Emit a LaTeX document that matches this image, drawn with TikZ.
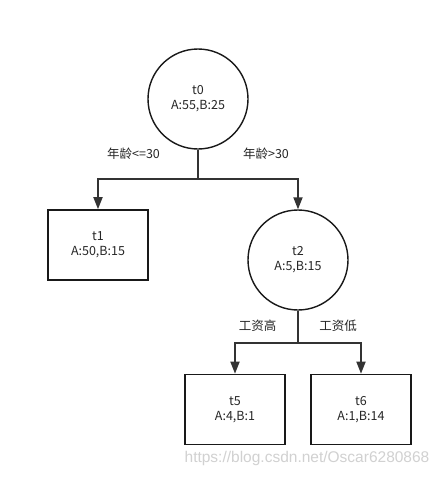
\documentclass[tikz,border=0pt]{standalone}
\usepackage{fontspec}
\setmainfont{Noto Sans CJK SC}
\newfontfamily\wmfont{Liberation Sans}
\usetikzlibrary{arrows.meta}
\begin{document}
\begin{tikzpicture}[x=1pt,y=-1pt,
  every node/.style={font=\fontsize{12.5}{15}\selectfont, text=black!85},
  circ/.style={circle, draw=black!90, line width=1.4pt, minimum size=100pt, inner sep=0pt, align=center},
  leaf/.style={rectangle, draw=black!90, line width=1.6pt, minimum width=100pt, minimum height=70pt, inner sep=0pt, align=center},
  conn/.style={draw=black!80, line width=1.8pt, -{Triangle[width=9pt,length=12pt]}},
  lbl/.style={inner sep=1pt}]
\useasboundingbox[fill=white] (0,0) rectangle (442,477);
\node[circ] (t0) at (198,99) {t0\\A:55,B:25};
\node[leaf] (t1) at (98,245) {t1\\A:50,B:15};
\node[circ] (t2) at (298,260) {t2\\A:5,B:15};
\node[leaf] (t5) at (235,409.5) {t5\\A:4,B:1};
\node[leaf] (t6) at (361,409.5) {t6\\A:1,B:14};
\draw[conn] (t0.south) -- ++(0,29) -| (t1.north);
\draw[conn] (t0.south) -- ++(0,29) -| (t2.north);
\draw[conn] (t2.south) -- ++(0,32) -| (t5.north);
\draw[conn] (t2.south) -- ++(0,32) -| (t6.north);
\node[lbl] (l1) at (133.5,154) {年龄<=30};
\node[lbl] (l2) at (266,154) {年龄>30};
\node[lbl] (l3) at (257.5,326) {工资高};
\node[lbl] (l4) at (338,326) {工资低};
\node[lbl, text=black!18, font=\fontsize{15.5}{18}\selectfont\wmfont] (wm) at (307,458) {https://blog.csdn.net/Oscar6280868};
\end{tikzpicture}
\end{document}
